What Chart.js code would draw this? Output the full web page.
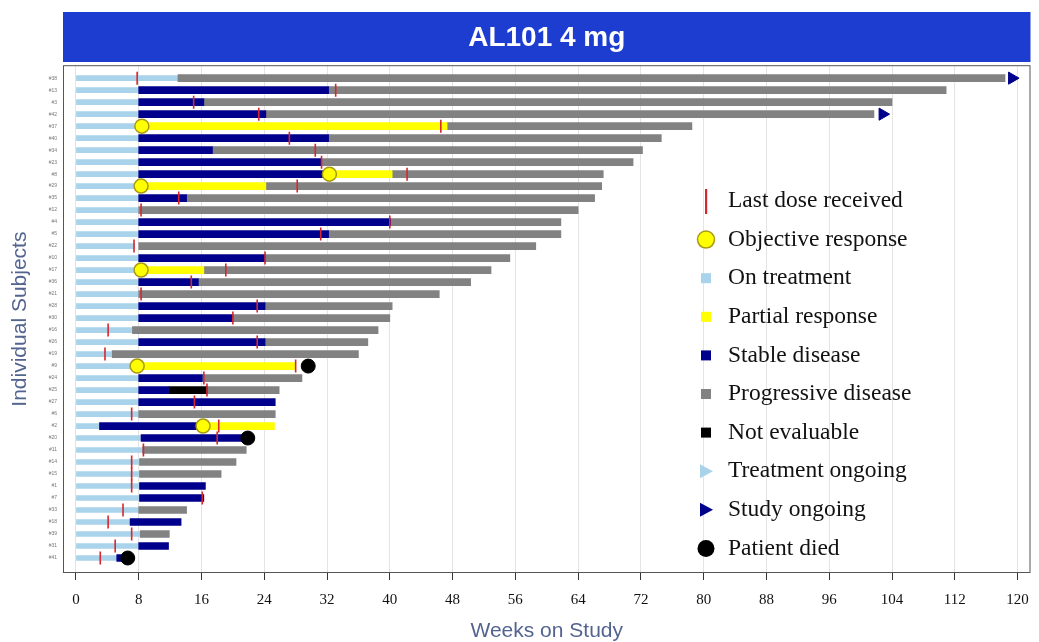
<!DOCTYPE html>
<html>
<head>
<meta charset="utf-8">
<title>AL101 4 mg</title>
<script src="https://cdn.jsdelivr.net/npm/chart.js"></script>
<style>
    html, body { margin: 0; padding: 0; background: #fff; overflow: hidden; }
    #swimmer-chart { display: block; }
</style>
</head>
<body>
<canvas id="swimmer-chart" width="1039" height="642"></canvas>
<script>
// --- dados (semanas no estudo) ---
const subjects = ['#38', '#13', '#3', '#42', '#37', '#40', '#34', '#23', '#8', '#29', '#35',
    '#12', '#4', '#5', '#22', '#10', '#17', '#36', '#21', '#28', '#30', '#16', '#26', '#19',
    '#9', '#24', '#25', '#27', '#6', '#2', '#20', '#11', '#14', '#15', '#1', '#7', '#33',
    '#18', '#39', '#31', '#41'];

const weekTicks = [0, 8, 16, 24, 32, 40, 48, 56, 64, 72, 80, 88, 96, 104, 112, 120];

// fim do período "On treatment" (começa em 0)
const onTreatment = [13, 8, 8, 8, 8, 8, 8, 8, 8, 8, 8, 8, 8, 8, 7.5, 8, 8, 8, 8, 8, 8, 7.2,
    8, 4.5, 8, 8, 8, 8, 8, 3, 8.3, 8.5, 8.1, 8.1, 8.1, 8.1, 8, 6.9, 8.2, 8, 5.2];

// segmentos [início, fim] por sujeito (null = sem segmento)
const partialResponse = [null, null, null, null, [8.4, 47.3], null, null, null, [32.3, 40.3],
    [8.3, 24.2], null, null, null, null, null, null, [8.3, 16.3], null, null, null, null, null,
    null, null, [7.8, 28], null, null, null, null, [16.2, 25.3], null, null, null, null, null,
    null, null, null, null, null, null];

const stableDisease = [null, [8, 32.2], [8, 16.3], [8, 24.2], null, [8, 32.2], [8, 17.4],
    [8, 31.2], [8, 32.3], null, [8, 14.1], null, [8, 40.1], [8, 32.2], null, [8, 24.1], null,
    [8, 15.6], null, [8, 24.1], [8, 20], null, [8, 24.1], null, null, [8, 16.1], [8, 11.8],
    [8, 25.4], null, [3, 16.2], [8.3, 21.9], null, null, null, [8.1, 16.5], [8.1, 16.3], null,
    [6.9, 13.4], null, [8, 11.8], [5.2, 6.6]];

const progressiveDisease = [[13, 118.4], [32.2, 110.9], [16.3, 104], [24.2, 101.7],
    [47.3, 78.5], [32.2, 74.6], [17.4, 72.2], [31.2, 71], [40.3, 67.2], [24.2, 67],
    [14.1, 66.1], [8, 64], [40.1, 61.8], [32.2, 61.8], [8, 58.6], [24.1, 55.3], [16.3, 52.9],
    [15.6, 50.3], [8, 46.3], [24.1, 40.3], [20, 40], [7.2, 38.5], [24.1, 37.2], [4.6, 36],
    null, [16.1, 28.8], [16.8, 25.9], null, [8, 25.4], null, null, [8.5, 21.7], [8.1, 20.4],
    [8.1, 18.5], null, null, [8, 14.1], null, [8.2, 11.9], null, null];

const notEvaluable = [null, null, null, null, null, null, null, null, null, null, null, null,
    null, null, null, null, null, null, null, null, null, null, null, null, null, null,
    [11.8, 16.8], null, null, null, null, null, null, null, null, null, null, null, null,
    null, null];

const lastDose = [7.8, 33.1, 15, 23.3, 46.5, 27.2, 30.5, 31.3, 42.2, 28.2, 13.1, 8.3, 40,
    31.2, 7.4, 24.1, 19.1, 14.7, 8.3, 23.1, 20, 4.1, 23.1, 3.7, 28, 16.3, 16.7, 15.1, 7.1,
    18.2, 18, 8.6, 7.1, 7.1, 7.1, 16.1, 6, 4.1, 7.1, 5, 3.1];

// marcadores pontuais: linha do sujeito + semana
const responseRows = [4, 8, 9, 16, 24, 29];
const responseWeeks = [8.4, 32.3, 8.3, 8.3, 7.8, 16.2];
const diedRows = [24, 30, 40];
const diedWeeks = [29.6, 21.9, 6.6];
const ongoingRows = [0, 3];
const ongoingWeeks = [119.3, 102.8];

const legendLabels = ['Last dose received', 'Objective response', 'On treatment',
    'Partial response', 'Stable disease', 'Progressive disease', 'Not evaluable',
    'Treatment ongoing', 'Study ongoing', 'Patient died'];

// cores
const COLORS = {
    onTreat: '#a9d3ea',
    partial: '#ffff00',
    stable: '#00008c',
    progressive: '#828282',
    notEval: '#000000',
    dose: '#d8262e',
    ring: '#a89a10',
    banner: '#1c3dd0',
    axisTitle: '#53648f'
};

function toBars(segments) {
    return segments.map((s, i) => (s ? { x: s, y: i } : null)).filter(Boolean);
}
function toPoints(rows, weeks) {
    return rows.map((r, i) => ({ x: weeks[i], y: r }));
}

// faixa azul do título + moldura da área do gráfico
const framePlugin = {
    id: 'frame',
    beforeDraw(chart) {
        const { ctx, chartArea } = chart;
        const t = chart.titleBlock;
        ctx.save();
        ctx.fillStyle = COLORS.banner;
        ctx.fillRect(chartArea.left, t.top, chartArea.right - chartArea.left, 50);
        ctx.restore();
    },
    afterDatasetsDraw(chart) {
        const { ctx, chartArea } = chart;
        ctx.save();
        ctx.strokeStyle = '#555';
        ctx.lineWidth = 1;
        ctx.strokeRect(chartArea.left + 0.5, chartArea.top + 0.5,
            chartArea.right - chartArea.left - 1, chartArea.bottom - chartArea.top - 1);
        ctx.restore();
    }
};

// legenda desenhada dentro da área do gráfico
const legendPlugin = {
    id: 'insideLegend',
    afterDraw(chart) {
        const ctx = chart.ctx;
        const symX = 706, textX = 728, startY = 201, step = 38.6;
        ctx.save();
        ctx.font = '23.5px "Liberation Serif", "DejaVu Serif", serif';
        ctx.textBaseline = 'middle';
        ctx.textAlign = 'left';
        legendLabels.forEach((label, i) => {
            const y = startY + i * step;
            ctx.beginPath();
            if (i === 0) {
                ctx.fillStyle = COLORS.dose;
                ctx.fillRect(symX - 1, y - 12, 2.2, 25);
            } else if (i === 1) {
                ctx.arc(symX, y, 8.5, 0, Math.PI * 2);
                ctx.fillStyle = COLORS.partial;
                ctx.fill();
                ctx.lineWidth = 1.5;
                ctx.strokeStyle = COLORS.ring;
                ctx.stroke();
            } else if (i >= 2 && i <= 6) {
                const c = [COLORS.onTreat, COLORS.partial, COLORS.stable, COLORS.progressive, COLORS.notEval][i - 2];
                ctx.fillStyle = c;
                ctx.fillRect(symX - 5, y - 5, 10, 10);
            } else if (i === 7 || i === 8) {
                ctx.moveTo(symX - 6, y - 7);
                ctx.lineTo(symX + 7, y);
                ctx.lineTo(symX - 6, y + 7);
                ctx.closePath();
                ctx.fillStyle = i === 7 ? COLORS.onTreat : COLORS.stable;
                ctx.fill();
            } else {
                ctx.arc(symX, y, 8.5, 0, Math.PI * 2);
                ctx.fillStyle = '#000';
                ctx.fill();
            }
            ctx.fillStyle = '#111';
            ctx.fillText(label, textX, y);
        });
        ctx.restore();
    }
};

const barCommon = { type: 'bar', indexAxis: 'y', grouped: false, borderWidth: 0, borderSkipped: false };

new Chart(document.getElementById('swimmer-chart'), {
    type: 'bar',
    data: {
        datasets: [
            { ...barCommon, label: 'On treatment', data: onTreatment.map((v, i) => ({ x: [0, v], y: i })),
              backgroundColor: COLORS.onTreat, barThickness: 5, order: 20 },
            { ...barCommon, label: 'Partial response', data: toBars(partialResponse),
              backgroundColor: COLORS.partial, barThickness: 7, order: 15 },
            { ...barCommon, label: 'Stable disease', data: toBars(stableDisease),
              backgroundColor: COLORS.stable, barThickness: 7, order: 15 },
            { ...barCommon, label: 'Progressive disease', data: toBars(progressiveDisease),
              backgroundColor: COLORS.progressive, barThickness: 7, order: 15 },
            { ...barCommon, label: 'Not evaluable', data: toBars(notEvaluable),
              backgroundColor: COLORS.notEval, barThickness: 7, order: 15 },
            { type: 'scatter', label: 'Last dose received',
              data: lastDose.map((w, i) => ({ x: w, y: i })),
              pointStyle: 'line', rotation: 90, radius: 6.5,
              borderColor: COLORS.dose, borderWidth: 1.6, order: 5 },
            { type: 'scatter', label: 'Objective response', data: toPoints(responseRows, responseWeeks),
              pointStyle: 'circle', radius: 7, backgroundColor: COLORS.partial,
              borderColor: COLORS.ring, borderWidth: 1.5, order: 1 },
            { type: 'scatter', label: 'Study ongoing', data: toPoints(ongoingRows, ongoingWeeks),
              pointStyle: 'triangle', rotation: 90, radius: 7, backgroundColor: COLORS.stable,
              borderColor: COLORS.stable, borderWidth: 1, order: 1 },
            { type: 'scatter', label: 'Patient died', data: toPoints(diedRows, diedWeeks),
              pointStyle: 'circle', radius: 7, backgroundColor: '#000',
              borderColor: '#000', borderWidth: 1, order: 1 }
        ]
    },
    options: {
        responsive: false,
        animation: false,
        devicePixelRatio: 1,
        layout: { padding: { left: 0, right: 6, top: 12, bottom: 0 } },
        plugins: {
            legend: { display: false },
            tooltip: { enabled: false },
            title: {
                display: true,
                fullSize: false,
                text: 'AL101 4 mg',
                color: '#ffffff',
                font: { family: '"Liberation Sans", Arial, sans-serif', size: 28, weight: 'bold' },
                padding: { top: 9.4, bottom: 10.2 }
            }
        },
        scales: {
            x: {
                type: 'linear',
                offset: false,
                min: -1.65,
                max: 121.65,
                afterBuildTicks: (scale) => { scale.ticks = weekTicks.map(v => ({ value: v })); },
                afterFit: (scale) => {
                    scale.height = 69;
                    // sem margem extra para o rótulo "120"
                    scale.paddingLeft = 0;
                    scale.paddingRight = 0;
                },
                grid: { offset: false, color: '#e4e4e4', drawTicks: true, tickLength: 7, tickColor: '#333' },
                border: { display: false },
                ticks: {
                    autoSkip: false,
                    maxRotation: 0,
                    padding: 11,
                    color: '#111',
                    font: { family: '"Liberation Serif", "DejaVu Serif", serif', size: 15 }
                },
                title: {
                    display: true,
                    text: 'Weeks on Study',
                    color: COLORS.axisTitle,
                    font: { family: '"Liberation Sans", Arial, sans-serif', size: 21, lineHeight: 1 },
                    padding: { top: 4, bottom: 0 }
                }
            },
            y: {
                type: 'linear',
                offset: false,
                reverse: true,
                min: -1.08,
                max: 41.25,
                afterBuildTicks: (scale) => { scale.ticks = subjects.map((_, i) => ({ value: i })); },
                afterFit: (scale) => { scale.width = 63; },
                grid: { offset: false, display: false, drawTicks: false },
                border: { display: false },
                ticks: {
                    autoSkip: false,
                    padding: 6,
                    color: '#777',
                    font: { family: '"Liberation Sans", Arial, sans-serif', size: 5 },
                    callback: (v) => subjects[v]
                },
                title: {
                    display: true,
                    text: 'Individual Subjects',
                    color: COLORS.axisTitle,
                    font: { family: '"Liberation Sans", Arial, sans-serif', size: 21 },
                    padding: { top: 8, bottom: 0 }
                }
            }
        }
    },
    plugins: [framePlugin, legendPlugin]
});
</script>
</body>
</html>
